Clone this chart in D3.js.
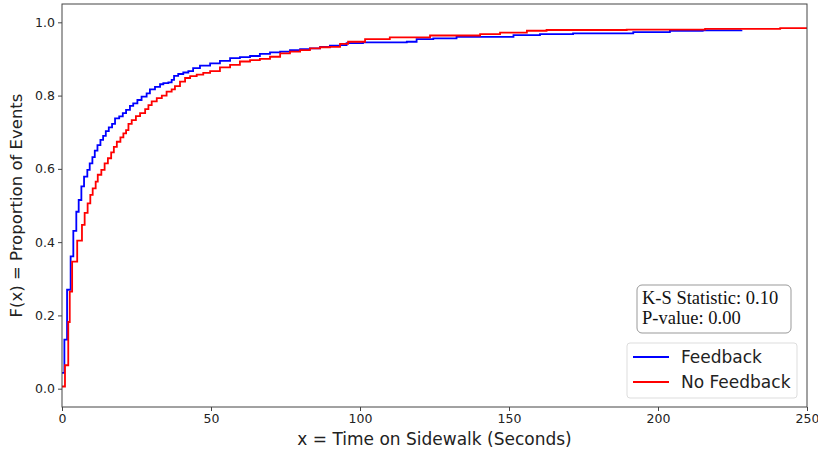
<!DOCTYPE html>
<html>
<head>
<meta charset="utf-8">
<script src="https://cdn.jsdelivr.net/npm/d3@7"></script>
<style>
  body { margin: 0; background: #fff; }
  .tick text { font-family: "DejaVu Sans", sans-serif; font-size: 12.5px; fill: #222; }
  .tick line { stroke: #444; }
</style>
</head>
<body>
<div id="chart-area"></div>
<script>
// step points (time in seconds, cumulative proportion)
var fbTime = [0, 0.8, 1.7, 2.9, 3.8, 4.8, 5.6, 6.5, 7.4, 8.5, 9.3, 10.2, 11.0, 11.9, 12.9, 13.8, 14.7, 15.7,
  16.8, 17.8, 19.2, 20.4, 21.5, 22.8, 23.9, 25.3, 26.7, 28.4, 29.5, 31.2, 32.9, 34, 35.7, 36.8, 37.6, 39,
  40.7, 42.4, 44, 46.3, 49.7, 53, 56.4, 59.7, 63.1, 66.4, 69.8, 73.2, 76.5, 79.9, 83.2, 86.6, 89.9, 93.3,
  95.5, 101, 115.7, 119, 124.6, 132.4, 151.5, 160.4, 171.5, 180, 191.7, 204, 215, 228];
var fbProp = [0.043, 0.134, 0.27, 0.361, 0.431, 0.483, 0.515, 0.552, 0.579, 0.597, 0.615, 0.632, 0.65, 0.665,
  0.679, 0.69, 0.703, 0.713, 0.723, 0.738, 0.743, 0.752, 0.761, 0.772, 0.779, 0.788, 0.797, 0.806, 0.817,
  0.824, 0.831, 0.834, 0.836, 0.843, 0.854, 0.859, 0.863, 0.867, 0.875, 0.882, 0.888, 0.895, 0.902, 0.905,
  0.908, 0.914, 0.918, 0.92, 0.924, 0.927, 0.929, 0.933, 0.936, 0.938, 0.943, 0.945, 0.947, 0.954, 0.956,
  0.96, 0.965, 0.968, 0.97, 0.97, 0.973, 0.977, 0.978, 0.979];

var nfTime = [0, 1.0, 2.1, 2.6, 3.4, 5.1, 6.7, 7.6, 8.6, 9.5, 10.3, 11.3, 12.0, 13.2, 14.3, 15.4, 16.5, 17.4,
  18.4, 19.6, 20.6, 21.5, 22.3, 23.4, 24.8, 26.2, 27.9, 29, 30.1, 31.8, 33.5, 35.1, 36.8, 37.9, 39.6, 41.3,
  43, 45.2, 47.4, 49.7, 53, 56.4, 59.7, 63.1, 66.4, 69.8, 73.2, 76.5, 79.9, 83.2, 86.6, 89.9, 93.3, 96,
  101.7, 110, 123.5, 140.3, 147, 156, 162.6, 189.5, 215.8, 241, 250];
var nfProp = [0.006, 0.064, 0.182, 0.265, 0.347, 0.404, 0.447, 0.48, 0.506, 0.529, 0.547, 0.565, 0.584, 0.597,
  0.615, 0.629, 0.645, 0.66, 0.674, 0.686, 0.697, 0.706, 0.723, 0.733, 0.744, 0.752, 0.763, 0.774, 0.784,
  0.793, 0.8, 0.811, 0.817, 0.826, 0.838, 0.848, 0.853, 0.857, 0.862, 0.867, 0.877, 0.884, 0.893, 0.897,
  0.9, 0.906, 0.915, 0.92, 0.924, 0.929, 0.932, 0.933, 0.941, 0.947, 0.954, 0.959, 0.964, 0.968, 0.972,
  0.977, 0.979, 0.98, 0.982, 0.984, 0.984];

var xTicks = [0, 50, 100, 150, 200, 250];
var yTicks = [0, 0.2, 0.4, 0.6, 0.8, 1.0];
var seriesNames = ["Feedback", "No Feedback"];
var seriesColours = ["#0000ff", "#ff0000"];
var statLines = ["K-S Statistic: 0.10", "P-value: 0.00"];

var margin = {top: 4, bottom: 49, left: 62, right: 11};
var width = 818 - margin.left - margin.right;
var height = 456 - margin.top - margin.bottom;

var svg = d3.select("#chart-area").append("svg")
    .attr("width", 818)
    .attr("height", 456);

var g = svg.append("g")
    .attr("transform", "translate(" + margin.left + "," + margin.top + ")");

var x = d3.scaleLinear().domain([0, 250]).range([0, width]);
var y = d3.scaleLinear().domain([-0.05, 1.05]).range([height, 0]);

g.append("clipPath").attr("id", "clip")
  .append("rect").attr("width", width).attr("height", height);

var line = d3.line()
    .x((d) => x(d[0]))
    .y((d) => y(d[1]))
    .curve(d3.curveStepAfter);

var series = [
  d3.zip(fbTime, fbProp),
  d3.zip(nfTime, nfProp)
];

// blue first, red drawn over it
[0, 1].forEach((i) => {
  g.append("path")
    .datum(series[i])
    .attr("clip-path", "url(#clip)")
    .attr("fill", "none")
    .attr("stroke", seriesColours[i])
    .attr("stroke-width", 1.8)
    .attr("d", line);
});

g.append("g")
  .attr("transform", "translate(0," + height + ")")
  .call(d3.axisBottom(x).tickValues(xTicks).tickSizeOuter(0).tickSize(4).tickPadding(3))
  .call((a) => a.select(".domain").remove());

g.append("g")
  .call(d3.axisLeft(y).tickValues(yTicks).tickFormat(d3.format(".1f")).tickSizeOuter(0).tickSize(4).tickPadding(3))
  .call((a) => a.select(".domain").remove());

g.append("rect")
  .attr("width", width)
  .attr("height", height)
  .attr("fill", "none")
  .attr("stroke", "#444")
  .attr("stroke-width", 1);

g.append("text")
  .attr("x", width / 2)
  .attr("y", height + 38)
  .attr("text-anchor", "middle")
  .attr("font-family", "DejaVu Sans, sans-serif")
  .attr("font-size", "17px")
  .attr("fill", "#222")
  .text("x = Time on Sidewalk (Seconds)");

g.append("text")
  .attr("transform", "rotate(-90)")
  .attr("x", -height / 2)
  .attr("y", -40)
  .attr("text-anchor", "middle")
  .attr("font-family", "DejaVu Sans, sans-serif")
  .attr("font-size", "16.5px")
  .attr("fill", "#222")
  .text("F(x) = Proportion of Events");

// stats box
var sb = svg.append("g").attr("transform", "translate(637,285)");
sb.append("rect")
  .attr("width", 154).attr("height", 48)
  .attr("rx", 5)
  .attr("fill", "#fff")
  .attr("stroke", "#999");
sb.selectAll("text").data(statLines).enter().append("text")
  .attr("x", 5)
  .attr("y", (d, i) => 18.5 + i * 20)
  .attr("font-family", "Liberation Serif, serif")
  .attr("font-size", "18.5px")
  .attr("fill", "#111")
  .text((d) => d);

// legend
var lg = svg.append("g").attr("transform", "translate(627,343)");
lg.append("rect")
  .attr("width", 170).attr("height", 55)
  .attr("rx", 3)
  .attr("fill", "#fff")
  .attr("stroke", "#ddd");
var item = lg.selectAll(".item").data(seriesNames).enter().append("g")
  .attr("transform", (d, i) => "translate(0," + (14 + i * 25) + ")");
item.append("line")
  .attr("x1", 6).attr("x2", 42)
  .attr("stroke", (d, i) => seriesColours[i])
  .attr("stroke-width", 1.8);
item.append("text")
  .attr("x", 54)
  .attr("y", 6)
  .attr("font-family", "DejaVu Sans, sans-serif")
  .attr("font-size", "17px")
  .attr("fill", "#222")
  .text((d) => d);
</script>
</body>
</html>
